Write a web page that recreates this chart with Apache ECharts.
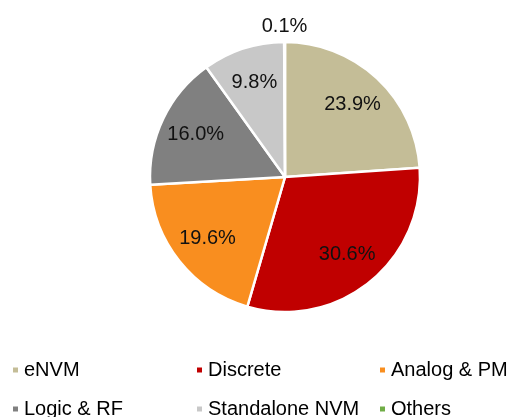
<!DOCTYPE html>
<html><head><meta charset="utf-8">
<script src="https://cdn.jsdelivr.net/npm/echarts@6/dist/echarts.min.js"></script>
<style>html,body{margin:0;padding:0;background:#fff}#c{width:515px;height:417px}</style>
</head><body><div id="c"></div>
<script>
const categories = ['eNVM', 'Discrete', 'Analog & PM', 'Logic & RF', 'Standalone NVM', 'Others'];
const shares = [23.9, 30.6, 19.6, 16.0, 9.8, 0.1];
const colors = ['#C4BD97', '#C00000', '#F98E1F', '#808080', '#C8C8C8', '#70AD47'];
const legendColumns = [['eNVM', 'Logic & RF'], ['Discrete', 'Standalone NVM'], ['Analog & PM', 'Others']];
const legendLefts = [11, 195, 378];

const FONT = '"Liberation Sans", Arial, sans-serif';
const CENTER = [285, 177];
const R = 135;

const baseData = categories.map((c, i) => ({ name: c, value: shares[i], itemStyle: { color: colors[i] } }));
const fmt = p => p.value.toFixed(1) + '%';

const chart = echarts.init(document.getElementById('c'), null, { renderer: 'canvas' });
chart.setOption({
  animation: false,
  color: colors,
  legend: legendColumns.map((col, k) => ({
    data: col,
    orient: 'vertical',
    left: legendLefts[k],
    top: 360,
    height: 100,
    itemWidth: 7,
    itemHeight: 7,
    itemGap: 19,
    icon: 'rect',
    selectedMode: false,
    padding: 0,
    textStyle: { fontFamily: FONT, fontSize: 20, color: '#000', lineHeight: 20 }
  })),
  series: [
    {
      type: 'pie', center: CENTER, radius: [0, R], startAngle: 90, clockwise: true,
      data: baseData,
      label: { show: false }, labelLine: { show: false },
      itemStyle: { borderColor: '#fff', borderWidth: 2.5 },
      silent: true
    },
    {
      type: 'pie', center: CENTER, radius: [57, R], startAngle: 90, clockwise: true,
      data: categories.map((c, i) => ({ name: c, value: shares[i], label: { show: i !== 5 } })),
      itemStyle: { color: 'rgba(0,0,0,0)' },
      label: { show: true, position: 'inside', formatter: fmt, fontFamily: FONT, fontSize: 20, color: '#111' },
      labelLine: { show: false }, silent: true, legendHoverLink: false
    },
    {
      type: 'pie', center: CENTER, radius: [143, 153], startAngle: 90, clockwise: true,
      data: categories.map((c, i) => ({ name: c, value: shares[i], label: { show: i === 5 } })),
      itemStyle: { color: 'rgba(0,0,0,0)' },
      label: { show: true, position: 'inside', formatter: fmt, fontFamily: FONT, fontSize: 20, color: '#111' },
      labelLine: { show: false }, silent: true, legendHoverLink: false
    }
  ]
});
</script></body></html>
